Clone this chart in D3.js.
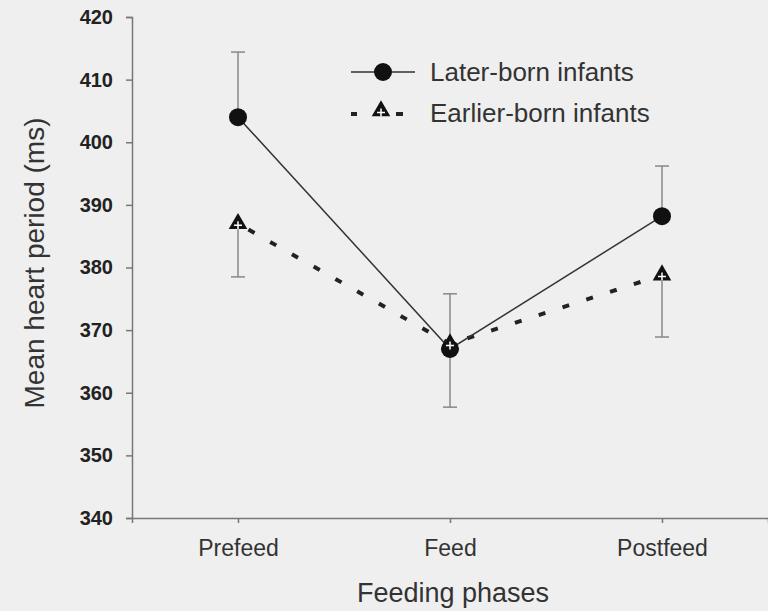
<!DOCTYPE html>
<html>
<head>
<meta charset="utf-8">
<script src="https://cdn.jsdelivr.net/npm/d3@7"></script>
<style>
  body { margin: 0; background: #efefef; }
  svg { display: block; font-family: "Liberation Sans", Arial, sans-serif; }
</style>
</head>
<body>
<svg width="768" height="611"></svg>
<script>
var phases = ["Prefeed", "Feed", "Postfeed"];
var yTicks = [340, 350, 360, 370, 380, 390, 400, 410, 420];

var laterMean = [404, 367, 388.2];
var laterErrTop = [414.4, 375.8, 396.2];
var earlierMean = [387, 367.8, 378.8];
var earlierErrBottom = [378.5, 357.7, 368.9];

var svg = d3.select("svg");

svg.append("rect")
    .attr("width", 768)
    .attr("height", 611)
    .attr("fill", "#efefef");

var x = d3.scalePoint()
    .domain(phases)
    .range([132, 768])
    .padding(0.5);

var y = d3.scaleLinear()
    .domain([340, 420])
    .range([518, 17]);

// y axis
var yAxis = svg.append("g")
    .attr("transform", "translate(132,0)")
    .call(d3.axisLeft(y).tickValues(yTicks).tickSize(6).tickPadding(13));

yAxis.select(".domain").attr("stroke", "#777").attr("stroke-width", 1.5);
yAxis.selectAll(".tick line").attr("stroke", "#777").attr("stroke-width", 1.5);
yAxis.selectAll(".tick text")
    .attr("fill", "#222")
    .attr("font-size", 20)
    .attr("font-weight", "bold");

// x axis
var xAxis = svg.append("g")
    .attr("transform", "translate(0,518)")
    .call(d3.axisBottom(x).tickSize(5).tickPadding(17));

xAxis.select(".domain").attr("stroke", "#777").attr("stroke-width", 1.5);
xAxis.selectAll(".tick line").attr("stroke", "#777").attr("stroke-width", 1.5);
xAxis.selectAll(".tick text")
    .attr("fill", "#333")
    .attr("font-size", 23);

// axis titles
svg.append("text")
    .attr("transform", "translate(44,263) rotate(-90)")
    .attr("text-anchor", "middle")
    .attr("fill", "#333")
    .attr("font-size", 28)
    .text("Mean heart period (ms)");

svg.append("text")
    .attr("x", 453)
    .attr("y", 602)
    .attr("text-anchor", "middle")
    .attr("fill", "#333")
    .attr("font-size", 27)
    .text("Feeding phases");

// error bars
function errorBars(means, ends) {
    var g = svg.append("g")
        .attr("stroke", "#888")
        .attr("stroke-width", 1.5);
    phases.forEach(function(p, i) {
        g.append("line")
            .attr("x1", x(p)).attr("x2", x(p))
            .attr("y1", y(means[i])).attr("y2", y(ends[i]));
        g.append("line")
            .attr("x1", x(p) - 7).attr("x2", x(p) + 7)
            .attr("y1", y(ends[i])).attr("y2", y(ends[i]));
    });
}
errorBars(laterMean, laterErrTop);
errorBars(earlierMean, earlierErrBottom);

var line = d3.line()
    .x(function(d, i) { return x(phases[i]); })
    .y(function(d) { return y(d); });

// earlier-born dashed line
svg.append("path")
    .datum(earlierMean)
    .attr("d", line)
    .attr("fill", "none")
    .attr("stroke", "#222")
    .attr("stroke-width", 4)
    .attr("stroke-dasharray", "7,18")
    .attr("stroke-dashoffset", -12);

// later-born solid line
svg.append("path")
    .datum(laterMean)
    .attr("d", line)
    .attr("fill", "none")
    .attr("stroke", "#333")
    .attr("stroke-width", 1.5);

function circleMark(g, cx, cy) {
    g.append("circle")
        .attr("cx", cx).attr("cy", cy).attr("r", 9)
        .attr("fill", "#111");
}

var triSymbol = d3.symbol().type(d3.symbolTriangle).size(150);

function triangleMark(g, cx, cy) {
    var t = g.append("g").attr("transform", "translate(" + cx + "," + cy + ")");
    t.append("path")
        .attr("d", triSymbol())
        .attr("fill", "#111");
    t.append("path")
        .attr("d", "M-4,1.5H4M0,-2.5V5.5")
        .attr("stroke", "#fff")
        .attr("stroke-width", 1.5);
}

var marks = svg.append("g");
phases.forEach(function(p, i) {
    circleMark(marks, x(p), y(laterMean[i]));
});
phases.forEach(function(p, i) {
    triangleMark(marks, x(p), y(earlierMean[i]));
});

// legend
var legend = svg.append("g");
legend.append("line")
    .attr("x1", 351).attr("x2", 415)
    .attr("y1", 72).attr("y2", 72)
    .attr("stroke", "#333").attr("stroke-width", 1.5);
circleMark(legend, 383, 72);
legend.append("text")
    .attr("x", 430).attr("y", 81)
    .attr("fill", "#333")
    .attr("font-size", 26)
    .text("Later-born infants");

legend.append("line")
    .attr("x1", 351).attr("x2", 357)
    .attr("y1", 114).attr("y2", 114)
    .attr("stroke", "#222").attr("stroke-width", 4);
legend.append("line")
    .attr("x1", 396).attr("x2", 403)
    .attr("y1", 114).attr("y2", 114)
    .attr("stroke", "#222").attr("stroke-width", 4);
triangleMark(legend, 381, 111);
legend.append("text")
    .attr("x", 430).attr("y", 122)
    .attr("fill", "#333")
    .attr("font-size", 26)
    .text("Earlier-born infants");
</script>
</body>
</html>
